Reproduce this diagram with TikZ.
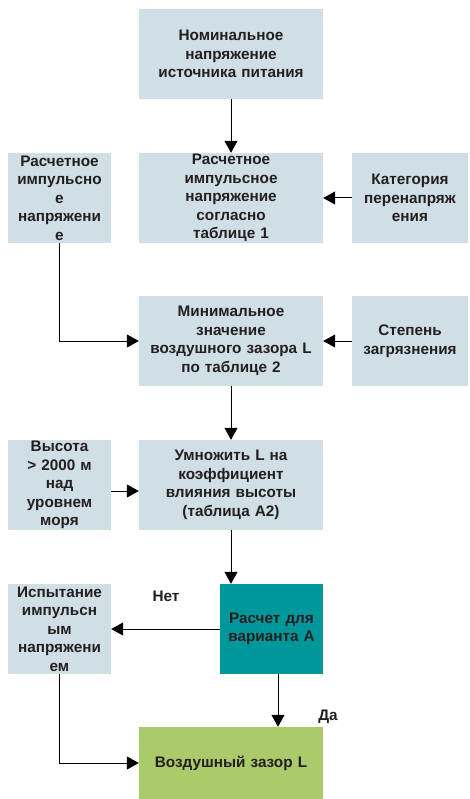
\documentclass[tikz,border=0pt]{standalone}
\usepackage{fontspec}
\setmainfont{Liberation Sans}
\usetikzlibrary{arrows.meta}
\definecolor{boxblue}{HTML}{D0DEE5}
\definecolor{tealbox}{HTML}{00979B}
\definecolor{greenbox}{HTML}{ABCB6A}
\definecolor{txt}{HTML}{231F20}
\begin{document}
\begin{tikzpicture}[x=1pt,y=1pt,
  box/.style={fill=boxblue, text=txt, font=\fontsize{15.3}{18.5}\selectfont\bfseries,
    align=center, inner sep=0pt, minimum height=90pt},
  wide/.style={box, minimum width=184pt, text width=180pt},
  narrow/.style={box, minimum width=103pt, text width=101pt},
  side/.style={box, minimum width=116pt, text width=112pt},
  conn/.style={line width=1pt, -{Triangle[length=12pt,width=13pt]}},
  lbl/.style={text=txt, font=\fontsize{15.3}{18.5}\selectfont\bfseries, inner sep=0pt}]
\useasboundingbox (0,0) rectangle (470,-799);
\node[wide] (top) at (231,-54) {Номинальное\\напряжение\\источника питания};
\node[wide] (b2) at (231,-198) {Расчетное\\импульсное\\напряжение\\согласно\\таблице 1};
\node[narrow] (L1) at (59.5,-198) {Расчетное\\импульсно\\е\\напряжени\\е};
\node[side] (R1) at (410,-198) {Категория\\перенапряж\\ения};
\node[wide] (b3) at (231,-341) {Минимальное\\значение\\воздушного зазора L\\по таблице 2};
\node[side] (R2) at (410,-341) {Степень\\загрязнения};
\node[wide] (b4) at (231,-485) {Умножить L на\\коэффициент\\влияния высоты\\(таблица А2)};
\node[narrow] (L2) at (59.5,-485) {Высота\\> 2000 м\\над\\уровнем\\моря};
\node[narrow, fill=tealbox] (teal) at (271.5,-629) {Расчет для\\варианта А};
\node[narrow] (L3) at (59.5,-629) {Испытание\\импульсн\\ым\\напряжени\\ем};
\node[wide, fill=greenbox, minimum height=72pt] (green) at (231,-763) {Воздушный зазор L};
\node[lbl] (no) at (166,-596) {Нет};
\node[lbl] (yes) at (328,-717) {Да};
\draw[conn] (top.south) -- (b2.north);
\draw[conn] (R1.west) -- (b2.east);
\draw[conn] (L1.south) |- (b3.west);
\draw[conn] (R2.west) -- (b3.east);
\draw[conn] (b3.south) -- (b4.north);
\draw[conn] ([yshift=-6pt]L2.east) -- ([yshift=-6pt]b4.west);
\draw[conn] (b4.south) -- (b4.south |- teal.north);
\draw[conn] (teal.west) -- (L3.east);
\draw[conn] ([xshift=6.5pt]teal.south) -- ([xshift=6.5pt]teal.south |- green.north);
\draw[conn] (L3.south) |- (green.west);
\end{tikzpicture}
\end{document}
